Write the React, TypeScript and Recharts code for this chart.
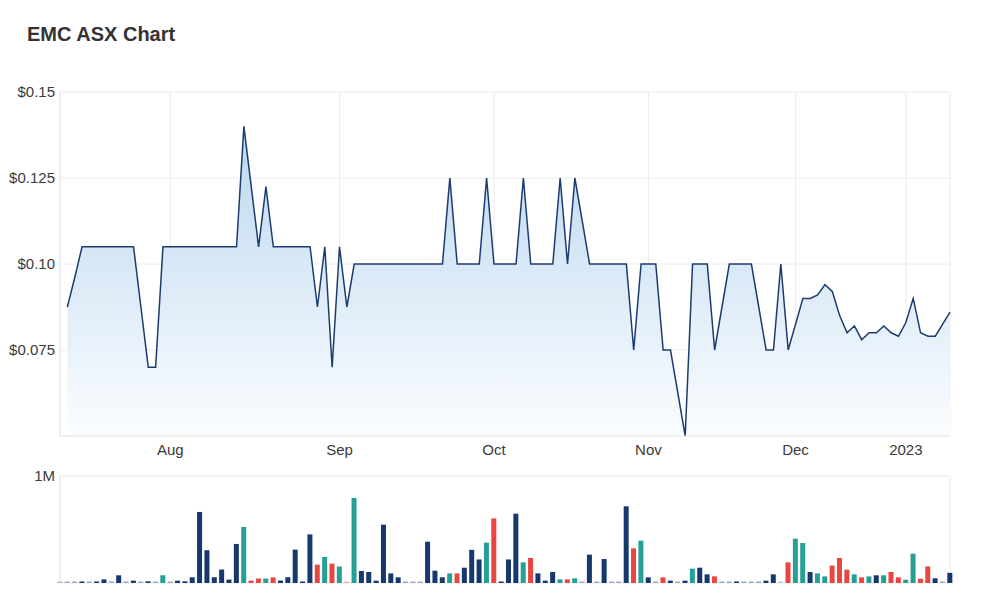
import { AreaChart, Area, BarChart, Bar, Cell, XAxis, YAxis, CartesianGrid } from 'recharts';

// closing price per trading day (first day has volume only)
const prices = [
  null, 0.0875, 0.096, 0.105, 0.105, 0.105, 0.105, 0.105, 0.105, 0.105,
  0.105, 0.0875, 0.07, 0.07, 0.105, 0.105, 0.105, 0.105, 0.105, 0.105,
  0.105, 0.105, 0.105, 0.105, 0.105, 0.14, 0.1225, 0.105, 0.1225, 0.105,
  0.105, 0.105, 0.105, 0.105, 0.105, 0.0875, 0.105, 0.07, 0.105, 0.0875,
  0.1, 0.1, 0.1, 0.1, 0.1, 0.1, 0.1, 0.1, 0.1, 0.1,
  0.1, 0.1, 0.1, 0.125, 0.1, 0.1, 0.1, 0.1, 0.125, 0.1,
  0.1, 0.1, 0.1, 0.125, 0.1, 0.1, 0.1, 0.1, 0.125, 0.1,
  0.125, 0.1125, 0.1, 0.1, 0.1, 0.1, 0.1, 0.1, 0.075, 0.1,
  0.1, 0.1, 0.075, 0.075, 0.0625, 0.05, 0.1, 0.1, 0.1, 0.075,
  0.0875, 0.1, 0.1, 0.1, 0.1, 0.0875, 0.075, 0.075, 0.1, 0.075,
  0.0825, 0.09, 0.09, 0.091, 0.094, 0.092, 0.085, 0.08, 0.082, 0.078,
  0.08, 0.08, 0.082, 0.08, 0.079, 0.083, 0.09, 0.08, 0.079, 0.079,
  0.0825, 0.086,
];

// volume in thousands of shares
const volumes = [
  0, 0, 0, 10, 0, 12, 34, 0, 72, 0,
  22, 0, 16, 0, 72, 0, 22, 16, 53, 664,
  306, 54, 126, 32, 365, 524, 22, 42, 42, 52,
  23, 54, 312, 14, 454, 172, 244, 181, 154, 0,
  795, 112, 103, 22, 545, 90, 53, 0, 0, 0,
  386, 115, 53, 90, 90, 143, 310, 220, 377, 604,
  12, 220, 648, 193, 234, 90, 22, 103, 34, 34,
  44, 0, 265, 0, 224, 0, 0, 717, 324, 396,
  53, 0, 53, 22, 0, 22, 134, 143, 81, 62,
  0, 0, 12, 0, 0, 0, 22, 81, 0, 193,
  414, 374, 103, 90, 62, 162, 234, 125, 81, 53,
  62, 72, 72, 103, 53, 31, 274, 40, 155, 44,
  0, 95,
];

// u = up day, d = down day, n = neutral
const moves = [
  'n', 'n', 'n', 'n', 'n', 'n', 'n', 'n', 'n', 'n',
  'n', 'n', 'n', 'n', 'u', 'n', 'n', 'n', 'n', 'n',
  'n', 'n', 'n', 'n', 'n', 'u', 'd', 'd', 'u', 'd',
  'n', 'n', 'n', 'n', 'n', 'd', 'u', 'd', 'u', 'd',
  'u', 'n', 'n', 'n', 'n', 'n', 'n', 'n', 'n', 'n',
  'n', 'n', 'n', 'u', 'd', 'n', 'n', 'n', 'u', 'd',
  'n', 'n', 'n', 'u', 'd', 'n', 'n', 'n', 'u', 'd',
  'u', 'n', 'n', 'n', 'n', 'n', 'n', 'n', 'd', 'u',
  'n', 'n', 'd', 'n', 'n', 'n', 'u', 'n', 'n', 'd',
  'n', 'n', 'n', 'n', 'n', 'n', 'n', 'n', 'u', 'd',
  'u', 'u', 'n', 'u', 'u', 'd', 'd', 'd', 'u', 'd',
  'u', 'n', 'u', 'd', 'd', 'u', 'u', 'd', 'd', 'n',
  'n', 'n',
];

const monthTicks = [15, 38, 59, 80, 100, 115];
const monthLabels = ['Aug', 'Sep', 'Oct', 'Nov', 'Dec', '2023'];
const priceTicks = [0.075, 0.1, 0.125, 0.15];
const volumeTicks = [1000];

const moveColors: Record<string, string> = { u: '#26a095', d: '#e9463f', n: '#15386d' };

const data = prices.map((p, i) => ({ i, price: p, volume: volumes[i], move: moves[i] }));

const fmtPrice = (v: number) => {
  const s = v.toFixed(3);
  return '$' + (s.endsWith('0') ? s.slice(0, -1) : s);
};
const fmtMonth = (v: number) => monthLabels[monthTicks.indexOf(v)] ?? '';
const fmtVol = (v: number) => (v >= 1000 ? `${v / 1000}M` : `${v}K`);

const tickStyle = { fill: '#3a3a3a', fontSize: 15 };
const frame = '#e6e6e6';

export default function App() {
  return (
    <div
      style={{
        position: 'absolute',
        left: 0,
        top: 0,
        width: 1000,
        height: 610,
        background: '#fff',
        fontFamily: '"Liberation Sans", Arial, sans-serif',
      }}
    >
      <div
        style={{
          position: 'absolute',
          left: 27,
          top: 22,
          fontSize: 20,
          lineHeight: '24px',
          fontWeight: 'bold',
          color: '#333',
        }}
      >
        EMC ASX Chart
      </div>

      <div style={{ position: 'absolute', left: 0, top: 0 }}>
        <AreaChart width={1000} height={470} data={data} margin={{ top: 92, right: 50, bottom: 4, left: 0 }}>
          <defs>
            <linearGradient id="priceFill" x1="0" y1="0" x2="0" y2="1">
              <stop offset="0%" stopColor="#bcd7ef" />
              <stop offset="100%" stopColor="#fbfdff" />
            </linearGradient>
          </defs>
          <CartesianGrid stroke="#ececec" />
          <XAxis
            dataKey="i"
            type="number"
            domain={[0, 121]}
            ticks={monthTicks}
            tickFormatter={fmtMonth}
            tickLine={false}
            axisLine={{ stroke: frame }}
            tick={tickStyle}
            height={30}
            interval={0}
          />
          <YAxis
            domain={[0.05, 0.15]}
            ticks={priceTicks}
            tickFormatter={fmtPrice}
            tickLine={false}
            axisLine={{ stroke: frame }}
            tick={tickStyle}
            tickSize={0}
            tickMargin={5}
            width={60}
            interval={0}
          />
          <YAxis yAxisId="edge" orientation="right" width={0} tick={false} tickLine={false} axisLine={{ stroke: frame }} domain={[0, 1]} />
          <Area
            dataKey="price"
            type="linear"
            stroke="#1c3c70"
            strokeWidth={1.5}
            fill="url(#priceFill)"
            fillOpacity={1}
            isAnimationActive={false}
            dot={false}
            activeDot={false}
          />
        </AreaChart>
      </div>

      <div style={{ position: 'absolute', left: 0, top: 460 }}>
        <BarChart width={1000} height={150} data={data} margin={{ top: 16, right: 50, bottom: 27, left: 0 }}>
          <CartesianGrid stroke="#ececec" />
          <XAxis
            dataKey="i"
            type="number"
            domain={[0, 121]}
            ticks={monthTicks}
            tick={false}
            tickLine={false}
            axisLine={false}
            height={0}
            interval={0}
          />
          <YAxis
            domain={[0, 1000]}
            ticks={volumeTicks}
            tickFormatter={fmtVol}
            tickLine={false}
            axisLine={{ stroke: frame }}
            tick={tickStyle}
            tickSize={0}
            tickMargin={5}
            width={60}
            interval={0}
          />
          <YAxis yAxisId="edge" orientation="right" width={0} tick={false} tickLine={false} axisLine={{ stroke: frame }} domain={[0, 1]} />
          <Bar dataKey="volume" barSize={5} minPointSize={1.5} isAnimationActive={false}>
            {data.map((d) => (
              <Cell key={d.i} fill={moveColors[d.move]} fillOpacity={d.volume === 0 ? 0.4 : 1} />
            ))}
          </Bar>
        </BarChart>
      </div>
    </div>
  );
}
